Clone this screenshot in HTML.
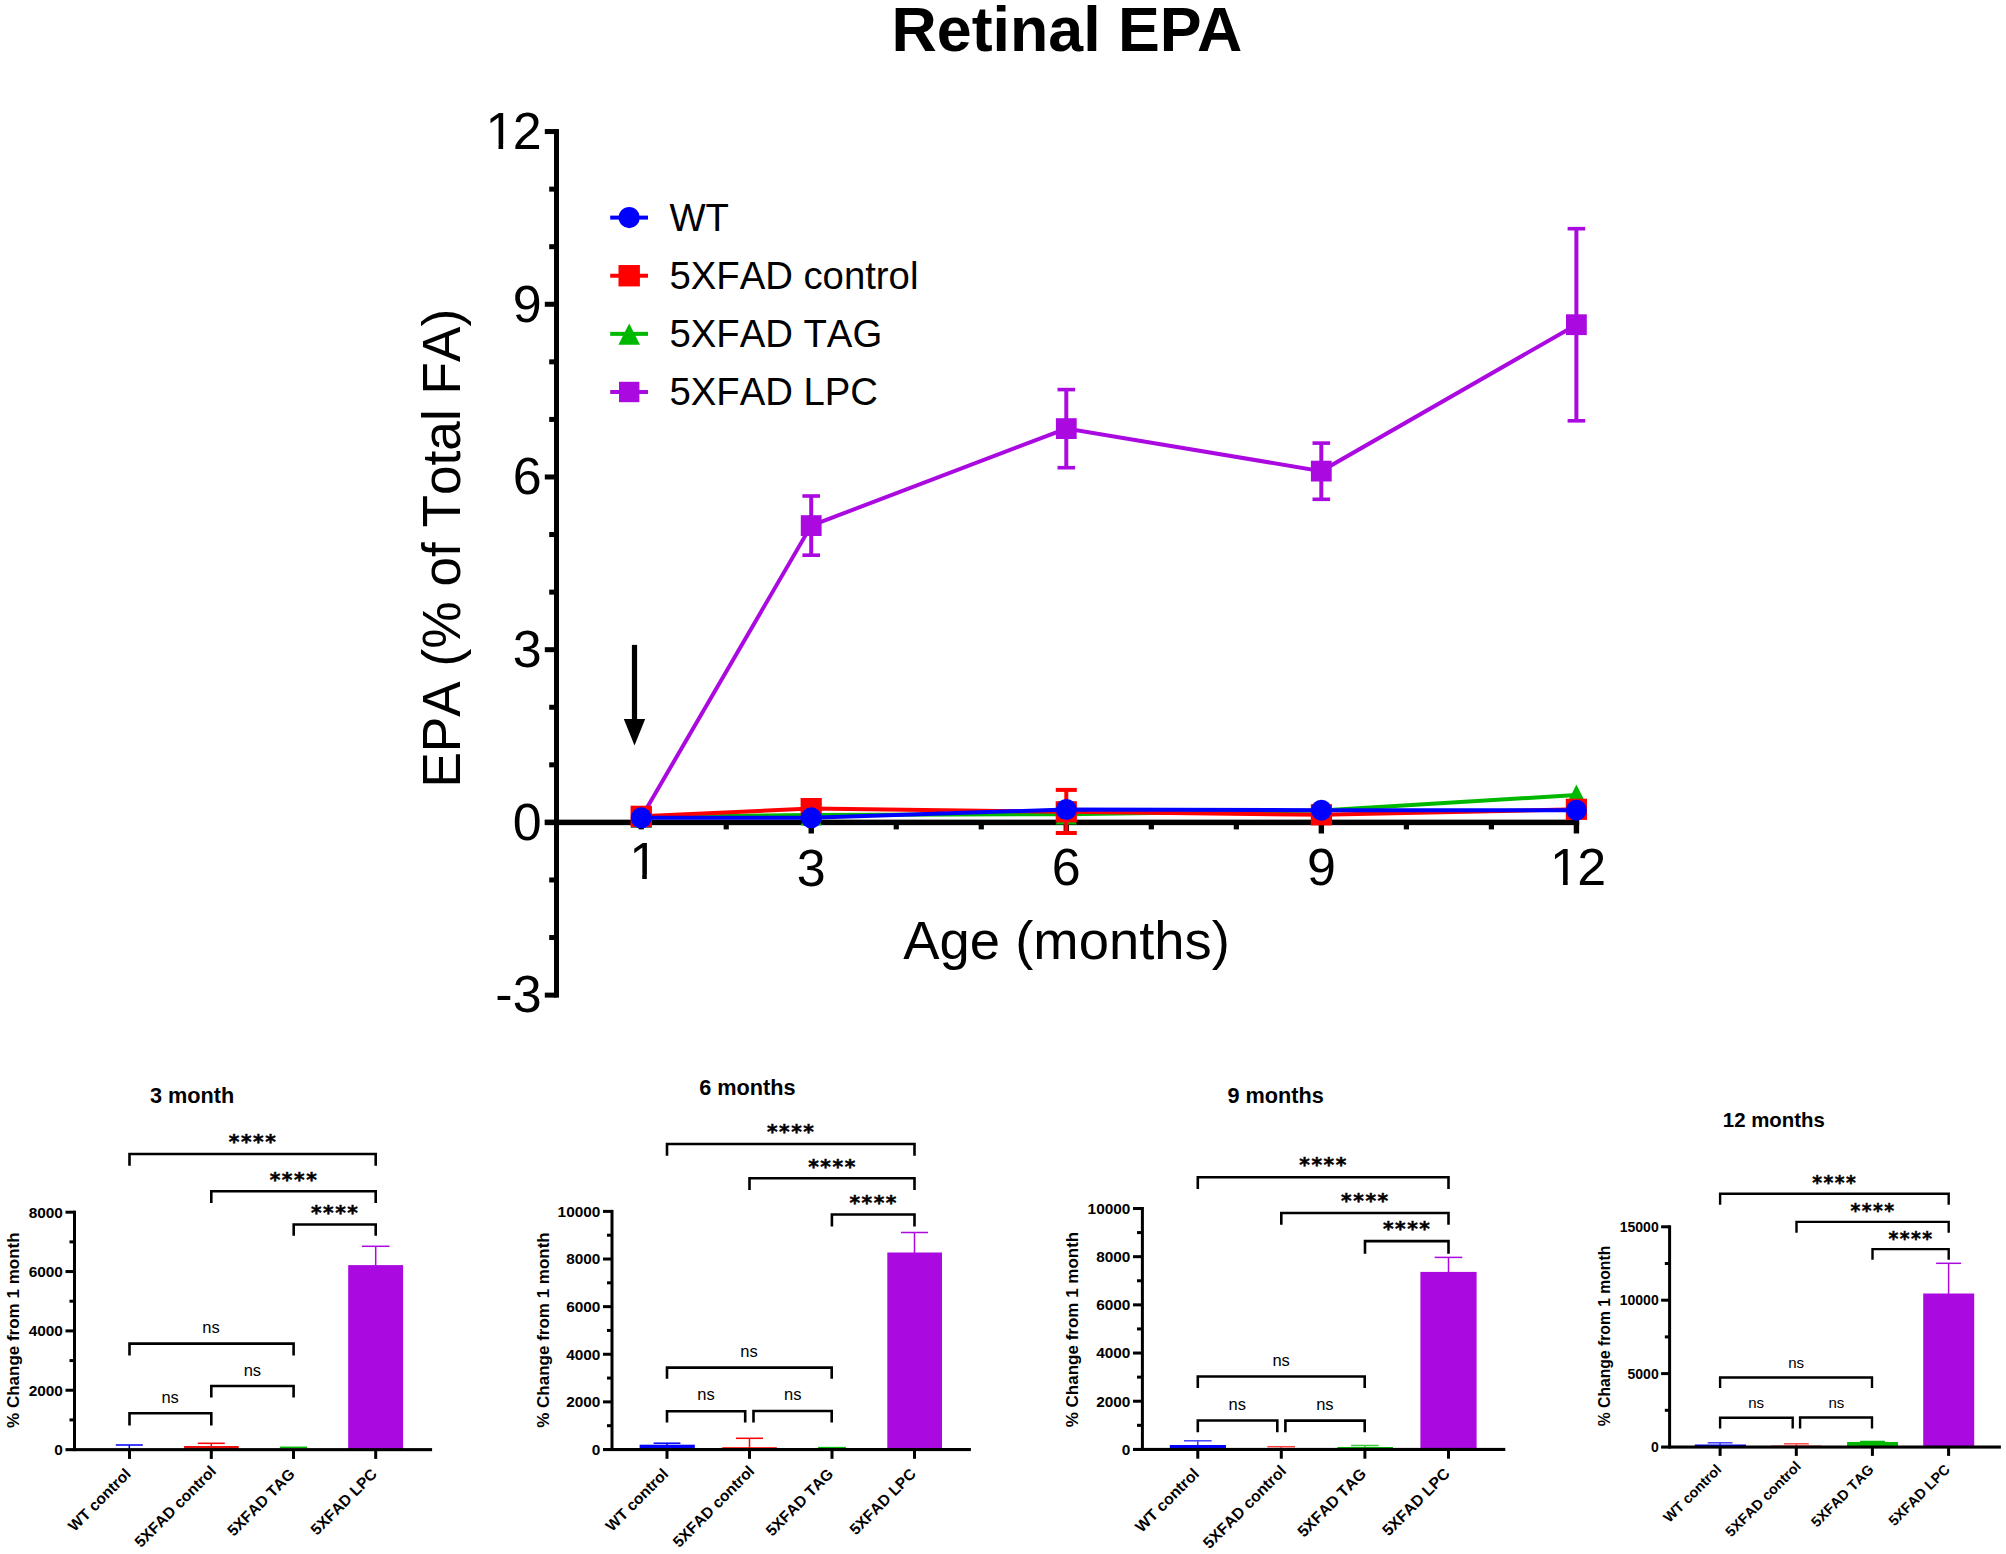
<!DOCTYPE html>
<html lang="en"><head><meta charset="utf-8"><title>Retinal EPA</title>
<style>
html,body{margin:0;padding:0;background:#fff;}
body{width:2006px;height:1554px;overflow:hidden;}
svg{display:block;font-family:'Liberation Sans', sans-serif;fill:#000;font-kerning:none;font-variant-ligatures:none;}
</style></head><body>
<svg width="2006" height="1554" viewBox="0 0 2006 1554">
<rect width="2006" height="1554" fill="#fff"/>
<text x="1066.9" y="50.8" text-anchor="middle" font-size="62.7" font-weight="bold" style="font-kerning:normal">Retinal EPA</text>
<rect x="554.00" y="129.06" width="5.0" height="868.55" fill="#000"/>
<rect x="544.8" y="992.61" width="11.70" height="5.0" fill="#000"/>
<rect x="549.2" y="935.04" width="7.30" height="5.0" fill="#000"/>
<rect x="549.2" y="877.47" width="7.30" height="5.0" fill="#000"/>
<rect x="544.8" y="819.90" width="11.70" height="5.0" fill="#000"/>
<rect x="549.2" y="762.33" width="7.30" height="5.0" fill="#000"/>
<rect x="549.2" y="704.76" width="7.30" height="5.0" fill="#000"/>
<rect x="544.8" y="647.19" width="11.70" height="5.0" fill="#000"/>
<rect x="549.2" y="589.62" width="7.30" height="5.0" fill="#000"/>
<rect x="549.2" y="532.05" width="7.30" height="5.0" fill="#000"/>
<rect x="544.8" y="474.48" width="11.70" height="5.0" fill="#000"/>
<rect x="549.2" y="416.91" width="7.30" height="5.0" fill="#000"/>
<rect x="549.2" y="359.34" width="7.30" height="5.0" fill="#000"/>
<rect x="544.8" y="301.77" width="11.70" height="5.0" fill="#000"/>
<rect x="549.2" y="244.20" width="7.30" height="5.0" fill="#000"/>
<rect x="549.2" y="186.63" width="7.30" height="5.0" fill="#000"/>
<rect x="544.8" y="129.06" width="11.70" height="5.0" fill="#000"/>
<text x="541.6" y="1012.3" text-anchor="end" font-size="52">-3</text>
<text x="541.6" y="839.6" text-anchor="end" font-size="52">0</text>
<text x="541.6" y="666.9" text-anchor="end" font-size="52">3</text>
<text x="541.6" y="494.2" text-anchor="end" font-size="52">6</text>
<text x="541.6" y="321.5" text-anchor="end" font-size="52">9</text>
<text x="485.46 512.68" y="148.8" font-size="52">12</text>
<rect x="488.42" y="144.28" width="10.12" height="5.18" fill="#fff"/>
<rect x="503.13" y="144.28" width="9.71" height="5.18" fill="#fff"/>
<rect x="544.8" y="819.65" width="1034.40" height="5.5" fill="#000"/>
<rect x="638.60" y="822.40" width="5.2" height="7.00" fill="#000"/>
<rect x="723.62" y="822.40" width="5.2" height="7.00" fill="#000"/>
<rect x="808.54" y="822.40" width="5.4" height="11.10" fill="#000"/>
<rect x="893.66" y="822.40" width="5.2" height="7.00" fill="#000"/>
<rect x="978.68" y="822.40" width="5.2" height="7.00" fill="#000"/>
<rect x="1063.60" y="822.40" width="5.4" height="11.10" fill="#000"/>
<rect x="1148.72" y="822.40" width="5.2" height="7.00" fill="#000"/>
<rect x="1233.74" y="822.40" width="5.2" height="7.00" fill="#000"/>
<rect x="1318.66" y="822.40" width="5.4" height="11.10" fill="#000"/>
<rect x="1403.78" y="822.40" width="5.2" height="7.00" fill="#000"/>
<rect x="1488.80" y="822.40" width="5.2" height="7.00" fill="#000"/>
<rect x="1573.72" y="822.40" width="5.4" height="11.10" fill="#000"/>
<text x="643.6" y="878.8" text-anchor="middle" font-size="52">1</text>
<rect x="632.10" y="874.32" width="10.12" height="5.18" fill="#fff"/>
<rect x="646.81" y="874.32" width="9.71" height="5.18" fill="#fff"/>
<text x="811.2" y="885.6" text-anchor="middle" font-size="52">3</text>
<text x="1066.3" y="885.0" text-anchor="middle" font-size="52">6</text>
<text x="1321.4" y="884.8" text-anchor="middle" font-size="52">9</text>
<text x="1550.00 1577.22" y="884.8" font-size="52">12</text>
<rect x="1552.96" y="880.32" width="10.12" height="5.18" fill="#fff"/>
<rect x="1567.67" y="880.32" width="9.71" height="5.18" fill="#fff"/>
<text x="1066.6" y="958.8" text-anchor="middle" font-size="54.4">Age (months)</text>
<text transform="translate(459.7 548.2) rotate(-90)" text-anchor="middle" font-size="53.2">EPA (% of Total FA)</text>
<rect x="631.9" y="644.9" width="5.2" height="76" fill="#000"/>
<polygon points="623.8,719 645.2,719 634.5,745.5" fill="#000"/>
<rect x="610.2" y="215.60" width="37.8" height="4" fill="#0000ff"/>
<circle cx="629.2" cy="217.60" r="10.6" fill="#0000ff"/>
<text x="669.4" y="230.5" font-size="38.3">WT</text>
<rect x="610.2" y="273.73" width="37.8" height="4" fill="#ff0000"/>
<rect x="618.50" y="265.03" width="21.4" height="21.4" fill="#ff0000"/>
<text x="669.4" y="288.6" font-size="38.3">5XFAD control</text>
<rect x="610.2" y="331.86" width="37.8" height="4" fill="#00b800"/>
<polygon points="618.40,344.66 640.00,344.66 629.20,323.46" fill="#00b800"/>
<text x="669.4" y="346.8" font-size="38.3">5XFAD TAG</text>
<rect x="610.2" y="389.99" width="37.8" height="4" fill="#aa0ae0"/>
<rect x="619.00" y="381.79" width="20.4" height="20.4" fill="#aa0ae0"/>
<text x="669.4" y="404.9" font-size="38.3">5XFAD LPC</text>
<polyline points="641.3,817.5 811.2,525.6 1066.3,428.6 1321.3,471.1 1576.4,324.7" fill="none" stroke="#aa0ae0" stroke-width="4"/>
<rect x="630.9" y="807.1" width="20.8" height="20.8" fill="#aa0ae0"/>
<rect x="809.2" y="496.0" width="4" height="59.2" fill="#aa0ae0"/>
<rect x="802.4" y="494.2" width="17.6" height="3.6" fill="#aa0ae0"/>
<rect x="802.4" y="553.4" width="17.6" height="3.6" fill="#aa0ae0"/>
<rect x="800.8" y="515.2" width="20.8" height="20.8" fill="#aa0ae0"/>
<rect x="1064.3" y="389.6" width="4" height="78.1" fill="#aa0ae0"/>
<rect x="1057.5" y="387.8" width="17.6" height="3.6" fill="#aa0ae0"/>
<rect x="1057.5" y="465.9" width="17.6" height="3.6" fill="#aa0ae0"/>
<rect x="1055.9" y="418.2" width="20.8" height="20.8" fill="#aa0ae0"/>
<rect x="1319.3" y="443.1" width="4" height="56.2" fill="#aa0ae0"/>
<rect x="1312.5" y="441.3" width="17.6" height="3.6" fill="#aa0ae0"/>
<rect x="1312.5" y="497.5" width="17.6" height="3.6" fill="#aa0ae0"/>
<rect x="1310.9" y="460.7" width="20.8" height="20.8" fill="#aa0ae0"/>
<rect x="1574.4" y="228.7" width="4" height="192.1" fill="#aa0ae0"/>
<rect x="1567.6" y="226.9" width="17.6" height="3.6" fill="#aa0ae0"/>
<rect x="1567.6" y="419.0" width="17.6" height="3.6" fill="#aa0ae0"/>
<rect x="1566.0" y="314.3" width="20.8" height="20.8" fill="#aa0ae0"/>
<polyline points="641.2,817.0 811.2,815.0 1066.3,814.2 1321.4,810.5 1576.4,795.0" fill="none" stroke="#00b800" stroke-width="4"/>
<polygon points="630.6,827.4 651.8,827.4 641.2,806.6" fill="#00b800"/>
<polygon points="800.6,825.4 821.8,825.4 811.2,804.6" fill="#00b800"/>
<polygon points="1055.7,824.6 1076.9,824.6 1066.3,803.8" fill="#00b800"/>
<polygon points="1310.8,820.9 1332.0,820.9 1321.4,800.1" fill="#00b800"/>
<polygon points="1565.8,805.4 1587.0,805.4 1576.4,784.6" fill="#00b800"/>
<polyline points="641.2,816.3 811.2,808.6 1066.3,811.8 1321.4,814.8 1576.4,809.3" fill="none" stroke="#ff0000" stroke-width="4"/>
<rect x="1064.3" y="788" width="4" height="47" fill="#ff0000"/>
<rect x="1055.8" y="787.9" width="21" height="4" fill="#ff0000"/>
<rect x="1055.8" y="831" width="21" height="4" fill="#ff0000"/>
<rect x="630.6" y="805.7" width="21.2" height="21.2" fill="#ff0000"/>
<rect x="800.6" y="798.0" width="21.2" height="21.2" fill="#ff0000"/>
<rect x="1055.7" y="801.2" width="21.2" height="21.2" fill="#ff0000"/>
<rect x="1310.8" y="804.2" width="21.2" height="21.2" fill="#ff0000"/>
<rect x="1565.8" y="798.7" width="21.2" height="21.2" fill="#ff0000"/>
<polyline points="641.2,817.8 811.2,817.8 1066.3,809.5 1321.4,810.2 1576.4,810.2" fill="none" stroke="#0000ff" stroke-width="4"/>
<circle cx="641.2" cy="817.8" r="10.5" fill="#0000ff"/>
<circle cx="811.2" cy="817.8" r="10.5" fill="#0000ff"/>
<circle cx="1066.3" cy="809.5" r="10.5" fill="#0000ff"/>
<circle cx="1321.4" cy="810.2" r="10.5" fill="#0000ff"/>
<circle cx="1576.4" cy="810.2" r="10.5" fill="#0000ff"/>
<text x="149.9" y="1102.7" font-size="21.7" font-weight="bold">3 month</text>
<rect x="184.1" y="1446.0" width="54.6" height="3.6" fill="#e60d0d"/>
<rect x="348.2" y="1265.1" width="54.9" height="184.5" fill="#aa0ae0"/>
<g fill="#0000ff" opacity="1"><rect x="115.8" y="1444.25" width="27.0" height="1.5"/><rect x="128.55" y="1445.00" width="1.5" height="4.00"/></g>
<g fill="#ff0000" opacity="1"><rect x="197.8" y="1442.55" width="27.0" height="1.5"/><rect x="210.55" y="1443.30" width="1.5" height="2.70"/></g>
<g fill="#00b800" opacity="1"><rect x="279.9" y="1446.55" width="27.2" height="1.5"/><rect x="292.75" y="1447.30" width="1.5" height="0.70"/></g>
<g fill="#aa0ae0" opacity="1"><rect x="361.9" y="1245.55" width="27.6" height="1.5"/><rect x="374.95" y="1246.30" width="1.5" height="19.20"/></g>
<rect x="73.00" y="1210.70" width="3.0" height="240.40" fill="#000"/>
<rect x="65.50" y="1448.10" width="366.60" height="3.1" fill="#000"/>
<text x="62.9" y="1455.0" text-anchor="end" font-size="15.4" font-weight="bold">0</text>
<rect x="69.50" y="1418.42" width="5.00" height="3.0" fill="#000"/>
<rect x="65.50" y="1388.75" width="9.00" height="3.0" fill="#000"/>
<text x="62.9" y="1395.7" text-anchor="end" font-size="15.4" font-weight="bold">2000</text>
<rect x="69.50" y="1359.08" width="5.00" height="3.0" fill="#000"/>
<rect x="65.50" y="1329.40" width="9.00" height="3.0" fill="#000"/>
<text x="62.9" y="1336.3" text-anchor="end" font-size="15.4" font-weight="bold">4000</text>
<rect x="69.50" y="1299.72" width="5.00" height="3.0" fill="#000"/>
<rect x="65.50" y="1270.05" width="9.00" height="3.0" fill="#000"/>
<text x="62.9" y="1277.0" text-anchor="end" font-size="15.4" font-weight="bold">6000</text>
<rect x="69.50" y="1240.38" width="5.00" height="3.0" fill="#000"/>
<rect x="65.50" y="1210.70" width="9.00" height="3.0" fill="#000"/>
<text x="62.9" y="1217.6" text-anchor="end" font-size="15.4" font-weight="bold">8000</text>
<text transform="translate(19.0 1330.2) rotate(-90)" text-anchor="middle" font-size="17.0" font-weight="bold">% Change from 1 month</text>
<rect x="128.00" y="1449.60" width="3.0" height="9.30" fill="#000"/>
<text transform="translate(131.8 1475.0) rotate(-45)" text-anchor="end" font-size="15.5" font-weight="bold">WT control</text>
<rect x="209.80" y="1449.60" width="3.0" height="9.30" fill="#000"/>
<text transform="translate(217.1 1472.2) rotate(-45)" text-anchor="end" font-size="15.5" font-weight="bold">5XFAD control</text>
<rect x="292.00" y="1449.60" width="3.0" height="9.30" fill="#000"/>
<text transform="translate(295.8 1475.0) rotate(-45)" text-anchor="end" font-size="15.5" font-weight="bold">5XFAD TAG</text>
<rect x="374.20" y="1449.60" width="3.0" height="9.30" fill="#000"/>
<text transform="translate(378.0 1475.0) rotate(-45)" text-anchor="end" font-size="15.5" font-weight="bold">5XFAD LPC</text>
<path d="M129.5 1165.7V1154.0H375.7V1165.7" fill="none" stroke="#000" stroke-width="2.6" stroke-linejoin="miter"/>
<path d="M211.3 1203.0V1191.3H375.7V1203.0" fill="none" stroke="#000" stroke-width="2.6" stroke-linejoin="miter"/>
<path d="M293.7 1235.8V1224.5H375.7V1235.8" fill="none" stroke="#000" stroke-width="2.6" stroke-linejoin="miter"/>
<path d="M129.5 1355.4V1343.6H293.6V1355.4" fill="none" stroke="#000" stroke-width="2.6" stroke-linejoin="miter"/>
<path d="M211.3 1397.6V1386.0H293.6V1397.6" fill="none" stroke="#000" stroke-width="2.6" stroke-linejoin="miter"/>
<path d="M129.5 1425.6V1413.3H211.3V1425.6" fill="none" stroke="#000" stroke-width="2.6" stroke-linejoin="miter"/>
<text x="253.1" y="1148.2" text-anchor="middle" letter-spacing="1.55" font-size="20.3" font-weight="bold" font-family="'DejaVu Sans', 'Liberation Sans', sans-serif" stroke="#000" stroke-width="0.5">****</text>
<text x="294.0" y="1185.5" text-anchor="middle" letter-spacing="1.55" font-size="20.3" font-weight="bold" font-family="'DejaVu Sans', 'Liberation Sans', sans-serif" stroke="#000" stroke-width="0.5">****</text>
<text x="335.2" y="1218.7" text-anchor="middle" letter-spacing="1.55" font-size="20.3" font-weight="bold" font-family="'DejaVu Sans', 'Liberation Sans', sans-serif" stroke="#000" stroke-width="0.5">****</text>
<text x="211.0" y="1332.6" text-anchor="middle" font-size="16.5">ns</text>
<text x="252.4" y="1375.5" text-anchor="middle" font-size="16.5">ns</text>
<text x="170.1" y="1402.7" text-anchor="middle" font-size="16.5">ns</text>
<text x="699.2" y="1095.0" font-size="21.7" font-weight="bold">6 months</text>
<rect x="639.6" y="1444.7" width="55.2" height="4.8" fill="#0000ff"/>
<rect x="722.2" y="1447.2" width="54.6" height="2.3" fill="#ff0000"/>
<rect x="887.3" y="1252.5" width="54.7" height="197.0" fill="#aa0ae0"/>
<g fill="#0000ff" opacity="1"><rect x="653.6" y="1442.45" width="26.8" height="1.5"/><rect x="666.25" y="1443.20" width="1.5" height="1.80"/></g>
<g fill="#ff0000" opacity="1"><rect x="736.0" y="1437.55" width="27.0" height="1.5"/><rect x="748.75" y="1438.30" width="1.5" height="9.70"/></g>
<g fill="#00b800" opacity="1"><rect x="818.1" y="1446.85" width="27.8" height="1.5"/><rect x="831.25" y="1447.60" width="1.5" height="0.40"/></g>
<g fill="#aa0ae0" opacity="1"><rect x="901.0" y="1231.75" width="27.0" height="1.5"/><rect x="913.75" y="1232.50" width="1.5" height="20.50"/></g>
<rect x="610.50" y="1209.90" width="3.0" height="241.10" fill="#000"/>
<rect x="603.00" y="1448.00" width="367.90" height="3.1" fill="#000"/>
<text x="600.4" y="1454.9" text-anchor="end" font-size="15.4" font-weight="bold">0</text>
<rect x="607.00" y="1424.19" width="5.00" height="3.0" fill="#000"/>
<rect x="603.00" y="1400.38" width="9.00" height="3.0" fill="#000"/>
<text x="600.4" y="1407.3" text-anchor="end" font-size="15.4" font-weight="bold">2000</text>
<rect x="607.00" y="1376.57" width="5.00" height="3.0" fill="#000"/>
<rect x="603.00" y="1352.76" width="9.00" height="3.0" fill="#000"/>
<text x="600.4" y="1359.7" text-anchor="end" font-size="15.4" font-weight="bold">4000</text>
<rect x="607.00" y="1328.95" width="5.00" height="3.0" fill="#000"/>
<rect x="603.00" y="1305.14" width="9.00" height="3.0" fill="#000"/>
<text x="600.4" y="1312.0" text-anchor="end" font-size="15.4" font-weight="bold">6000</text>
<rect x="607.00" y="1281.33" width="5.00" height="3.0" fill="#000"/>
<rect x="603.00" y="1257.52" width="9.00" height="3.0" fill="#000"/>
<text x="600.4" y="1264.4" text-anchor="end" font-size="15.4" font-weight="bold">8000</text>
<rect x="607.00" y="1233.71" width="5.00" height="3.0" fill="#000"/>
<rect x="603.00" y="1209.90" width="9.00" height="3.0" fill="#000"/>
<text x="600.4" y="1216.8" text-anchor="end" font-size="15.4" font-weight="bold">10000</text>
<text transform="translate(548.7 1330.0) rotate(-90)" text-anchor="middle" font-size="17.0" font-weight="bold">% Change from 1 month</text>
<rect x="665.50" y="1449.50" width="3.0" height="9.30" fill="#000"/>
<text transform="translate(669.3 1474.9) rotate(-45)" text-anchor="end" font-size="15.5" font-weight="bold">WT control</text>
<rect x="748.00" y="1449.50" width="3.0" height="9.30" fill="#000"/>
<text transform="translate(755.3 1472.1) rotate(-45)" text-anchor="end" font-size="15.5" font-weight="bold">5XFAD control</text>
<rect x="830.50" y="1449.50" width="3.0" height="9.30" fill="#000"/>
<text transform="translate(834.3 1474.9) rotate(-45)" text-anchor="end" font-size="15.5" font-weight="bold">5XFAD TAG</text>
<rect x="913.00" y="1449.50" width="3.0" height="9.30" fill="#000"/>
<text transform="translate(916.8 1474.9) rotate(-45)" text-anchor="end" font-size="15.5" font-weight="bold">5XFAD LPC</text>
<path d="M667.0 1155.7V1144.0H914.5V1155.7" fill="none" stroke="#000" stroke-width="2.6" stroke-linejoin="miter"/>
<path d="M749.5 1190.0V1178.3H914.5V1190.0" fill="none" stroke="#000" stroke-width="2.6" stroke-linejoin="miter"/>
<path d="M831.9 1226.4V1214.5H914.5V1226.4" fill="none" stroke="#000" stroke-width="2.6" stroke-linejoin="miter"/>
<path d="M667.0 1378.8V1367.6H831.7V1378.8" fill="none" stroke="#000" stroke-width="2.6" stroke-linejoin="miter"/>
<path d="M667.0 1422.5V1411.2H745.2V1422.5" fill="none" stroke="#000" stroke-width="2.6" stroke-linejoin="miter"/>
<path d="M753.5 1422.6V1411.0H831.7V1422.6" fill="none" stroke="#000" stroke-width="2.6" stroke-linejoin="miter"/>
<text x="791.2" y="1138.2" text-anchor="middle" letter-spacing="1.55" font-size="20.3" font-weight="bold" font-family="'DejaVu Sans', 'Liberation Sans', sans-serif" stroke="#000" stroke-width="0.5">****</text>
<text x="832.5" y="1172.5" text-anchor="middle" letter-spacing="1.55" font-size="20.3" font-weight="bold" font-family="'DejaVu Sans', 'Liberation Sans', sans-serif" stroke="#000" stroke-width="0.5">****</text>
<text x="873.7" y="1208.7" text-anchor="middle" letter-spacing="1.55" font-size="20.3" font-weight="bold" font-family="'DejaVu Sans', 'Liberation Sans', sans-serif" stroke="#000" stroke-width="0.5">****</text>
<text x="749.0" y="1356.7" text-anchor="middle" font-size="16.5">ns</text>
<text x="706.0" y="1400.3" text-anchor="middle" font-size="16.5">ns</text>
<text x="792.7" y="1400.1" text-anchor="middle" font-size="16.5">ns</text>
<text x="1227.4" y="1103.1" font-size="21.7" font-weight="bold">9 months</text>
<rect x="1169.8" y="1445.0" width="56.2" height="4.4" fill="#0000ff"/>
<rect x="1420.4" y="1271.9" width="56.2" height="177.5" fill="#aa0ae0"/>
<rect x="1337.4" y="1447.0" width="55.6" height="2.4" fill="#00b800"/>
<g fill="#0000ff" opacity="0.75"><rect x="1184.0" y="1440.05" width="27.6" height="1.5"/><rect x="1197.05" y="1440.80" width="1.5" height="4.20"/></g>
<g fill="#ff0000" opacity="0.75"><rect x="1267.4" y="1445.95" width="27.6" height="1.5"/><rect x="1280.45" y="1446.70" width="1.5" height="1.30"/></g>
<g fill="#00b800" opacity="0.75"><rect x="1351.1" y="1444.75" width="27.6" height="1.5"/><rect x="1364.15" y="1445.50" width="1.5" height="2.50"/></g>
<g fill="#aa0ae0" opacity="1"><rect x="1434.7" y="1256.65" width="27.6" height="1.5"/><rect x="1447.75" y="1257.40" width="1.5" height="14.60"/></g>
<rect x="1140.90" y="1207.00" width="3.0" height="243.90" fill="#000"/>
<rect x="1133.00" y="1447.90" width="372.30" height="3.1" fill="#000"/>
<text x="1130.4" y="1454.8" text-anchor="end" font-size="15.4" font-weight="bold">0</text>
<rect x="1137.00" y="1423.81" width="5.40" height="3.0" fill="#000"/>
<rect x="1133.00" y="1399.72" width="9.40" height="3.0" fill="#000"/>
<text x="1130.4" y="1406.6" text-anchor="end" font-size="15.4" font-weight="bold">2000</text>
<rect x="1137.00" y="1375.63" width="5.40" height="3.0" fill="#000"/>
<rect x="1133.00" y="1351.54" width="9.40" height="3.0" fill="#000"/>
<text x="1130.4" y="1358.4" text-anchor="end" font-size="15.4" font-weight="bold">4000</text>
<rect x="1137.00" y="1327.45" width="5.40" height="3.0" fill="#000"/>
<rect x="1133.00" y="1303.36" width="9.40" height="3.0" fill="#000"/>
<text x="1130.4" y="1310.3" text-anchor="end" font-size="15.4" font-weight="bold">6000</text>
<rect x="1137.00" y="1279.27" width="5.40" height="3.0" fill="#000"/>
<rect x="1133.00" y="1255.18" width="9.40" height="3.0" fill="#000"/>
<text x="1130.4" y="1262.1" text-anchor="end" font-size="15.4" font-weight="bold">8000</text>
<rect x="1137.00" y="1231.09" width="5.40" height="3.0" fill="#000"/>
<rect x="1133.00" y="1207.00" width="9.40" height="3.0" fill="#000"/>
<text x="1130.4" y="1213.9" text-anchor="end" font-size="15.4" font-weight="bold">10000</text>
<text transform="translate(1078.1 1329.5) rotate(-90)" text-anchor="middle" font-size="17.0" font-weight="bold">% Change from 1 month</text>
<rect x="1196.30" y="1449.40" width="3.0" height="9.30" fill="#000"/>
<text transform="translate(1200.1 1474.8) rotate(-45)" text-anchor="end" font-size="15.8" font-weight="bold">WT control</text>
<rect x="1279.80" y="1449.40" width="3.0" height="9.30" fill="#000"/>
<text transform="translate(1287.1 1472.0) rotate(-45)" text-anchor="end" font-size="15.8" font-weight="bold">5XFAD control</text>
<rect x="1363.40" y="1449.40" width="3.0" height="9.30" fill="#000"/>
<text transform="translate(1367.2 1474.8) rotate(-45)" text-anchor="end" font-size="15.8" font-weight="bold">5XFAD TAG</text>
<rect x="1447.00" y="1449.40" width="3.0" height="9.30" fill="#000"/>
<text transform="translate(1450.8 1474.8) rotate(-45)" text-anchor="end" font-size="15.8" font-weight="bold">5XFAD LPC</text>
<path d="M1197.8 1188.9V1177.2H1448.5V1188.9" fill="none" stroke="#000" stroke-width="2.6" stroke-linejoin="miter"/>
<path d="M1281.3 1224.8V1213.0H1448.5V1224.8" fill="none" stroke="#000" stroke-width="2.6" stroke-linejoin="miter"/>
<path d="M1365.0 1253.8V1241.1H1448.5V1253.8" fill="none" stroke="#000" stroke-width="2.6" stroke-linejoin="miter"/>
<path d="M1197.8 1388.1V1376.5H1364.7V1388.1" fill="none" stroke="#000" stroke-width="2.6" stroke-linejoin="miter"/>
<path d="M1197.8 1432.3V1420.5H1277.3V1432.3" fill="none" stroke="#000" stroke-width="2.6" stroke-linejoin="miter"/>
<path d="M1285.4 1432.3V1420.6H1364.7V1432.3" fill="none" stroke="#000" stroke-width="2.6" stroke-linejoin="miter"/>
<text x="1323.6" y="1171.4" text-anchor="middle" letter-spacing="1.55" font-size="20.3" font-weight="bold" font-family="'DejaVu Sans', 'Liberation Sans', sans-serif" stroke="#000" stroke-width="0.5">****</text>
<text x="1365.4" y="1207.2" text-anchor="middle" letter-spacing="1.55" font-size="20.3" font-weight="bold" font-family="'DejaVu Sans', 'Liberation Sans', sans-serif" stroke="#000" stroke-width="0.5">****</text>
<text x="1407.2" y="1235.3" text-anchor="middle" letter-spacing="1.55" font-size="20.3" font-weight="bold" font-family="'DejaVu Sans', 'Liberation Sans', sans-serif" stroke="#000" stroke-width="0.5">****</text>
<text x="1281.1" y="1365.5" text-anchor="middle" font-size="16.5">ns</text>
<text x="1237.3" y="1409.5" text-anchor="middle" font-size="16.5">ns</text>
<text x="1324.9" y="1409.8" text-anchor="middle" font-size="16.5">ns</text>
<text x="1722.8" y="1127.2" font-size="20.4" font-weight="bold">12 months</text>
<rect x="1694.8" y="1444.5" width="51.2" height="2.5" fill="#0000ff"/>
<rect x="1771.2" y="1445.6" width="50.7" height="1.4" fill="#ff0000"/>
<rect x="1847.1" y="1442.0" width="50.9" height="5.0" fill="#00b800"/>
<rect x="1923.2" y="1293.5" width="51.0" height="153.5" fill="#aa0ae0"/>
<g fill="#0000ff" opacity="0.75"><rect x="1707.7" y="1442.05" width="24.8" height="1.5"/><rect x="1719.35" y="1442.80" width="1.5" height="2.20"/></g>
<g fill="#ff0000" opacity="0.7"><rect x="1784.0" y="1443.05" width="24.8" height="1.5"/><rect x="1795.65" y="1443.80" width="1.5" height="2.20"/></g>
<g fill="#00b800" opacity="1"><rect x="1860.1" y="1440.75" width="24.8" height="1.5"/><rect x="1871.75" y="1441.50" width="1.5" height="1.50"/></g>
<g fill="#aa0ae0" opacity="1"><rect x="1936.1" y="1262.55" width="25.0" height="1.5"/><rect x="1947.85" y="1263.30" width="1.5" height="30.70"/></g>
<rect x="1668.10" y="1225.30" width="3.0" height="223.20" fill="#000"/>
<rect x="1661.10" y="1445.50" width="339.80" height="3.1" fill="#000"/>
<text x="1658.7" y="1451.9" text-anchor="end" font-size="14.0" font-weight="bold">0</text>
<rect x="1664.82" y="1408.80" width="4.78" height="3.0" fill="#000"/>
<rect x="1661.10" y="1372.10" width="8.50" height="3.0" fill="#000"/>
<text x="1658.7" y="1378.5" text-anchor="end" font-size="14.0" font-weight="bold">5000</text>
<rect x="1664.82" y="1335.40" width="4.78" height="3.0" fill="#000"/>
<rect x="1661.10" y="1298.70" width="8.50" height="3.0" fill="#000"/>
<text x="1658.7" y="1305.1" text-anchor="end" font-size="14.0" font-weight="bold">10000</text>
<rect x="1664.82" y="1262.00" width="4.78" height="3.0" fill="#000"/>
<rect x="1661.10" y="1225.30" width="8.50" height="3.0" fill="#000"/>
<text x="1658.7" y="1231.7" text-anchor="end" font-size="14.0" font-weight="bold">15000</text>
<text transform="translate(1610.0 1336.0) rotate(-90)" text-anchor="middle" font-size="15.7" font-weight="bold">% Change from 1 month</text>
<rect x="1718.60" y="1447.00" width="3.0" height="8.90" fill="#000"/>
<text transform="translate(1722.3 1470.4) rotate(-45)" text-anchor="end" font-size="14.35" font-weight="bold">WT control</text>
<rect x="1794.80" y="1447.00" width="3.0" height="8.90" fill="#000"/>
<text transform="translate(1801.8 1467.2) rotate(-45)" text-anchor="end" font-size="14.35" font-weight="bold">5XFAD control</text>
<rect x="1870.90" y="1447.00" width="3.0" height="8.90" fill="#000"/>
<text transform="translate(1874.6 1470.4) rotate(-45)" text-anchor="end" font-size="14.35" font-weight="bold">5XFAD TAG</text>
<rect x="1947.10" y="1447.00" width="3.0" height="8.90" fill="#000"/>
<text transform="translate(1950.8 1470.4) rotate(-45)" text-anchor="end" font-size="14.35" font-weight="bold">5XFAD LPC</text>
<path d="M1720.1 1204.8V1193.8H1948.7V1204.8" fill="none" stroke="#000" stroke-width="2.4" stroke-linejoin="miter"/>
<path d="M1796.5 1232.7V1221.9H1948.7V1232.7" fill="none" stroke="#000" stroke-width="2.4" stroke-linejoin="miter"/>
<path d="M1872.5 1259.8V1249.1H1948.7V1259.8" fill="none" stroke="#000" stroke-width="2.4" stroke-linejoin="miter"/>
<path d="M1720.1 1388.1V1377.5H1872.0V1388.1" fill="none" stroke="#000" stroke-width="2.4" stroke-linejoin="miter"/>
<path d="M1720.1 1428.5V1417.7H1792.7V1428.5" fill="none" stroke="#000" stroke-width="2.4" stroke-linejoin="miter"/>
<path d="M1800.1 1428.6V1417.5H1872.0V1428.6" fill="none" stroke="#000" stroke-width="2.4" stroke-linejoin="miter"/>
<text x="1834.8" y="1189.2" text-anchor="middle" letter-spacing="1.45" font-size="18.8" font-weight="bold" font-family="'DejaVu Sans', 'Liberation Sans', sans-serif" stroke="#000" stroke-width="0.45">****</text>
<text x="1873.0" y="1217.3" text-anchor="middle" letter-spacing="1.45" font-size="18.8" font-weight="bold" font-family="'DejaVu Sans', 'Liberation Sans', sans-serif" stroke="#000" stroke-width="0.45">****</text>
<text x="1911.0" y="1244.5" text-anchor="middle" letter-spacing="1.45" font-size="18.8" font-weight="bold" font-family="'DejaVu Sans', 'Liberation Sans', sans-serif" stroke="#000" stroke-width="0.45">****</text>
<text x="1796.2" y="1368.0" text-anchor="middle" font-size="15.0">ns</text>
<text x="1756.2" y="1407.9" text-anchor="middle" font-size="15.0">ns</text>
<text x="1836.3" y="1407.6" text-anchor="middle" font-size="15.0">ns</text>
</svg>
</body></html>
